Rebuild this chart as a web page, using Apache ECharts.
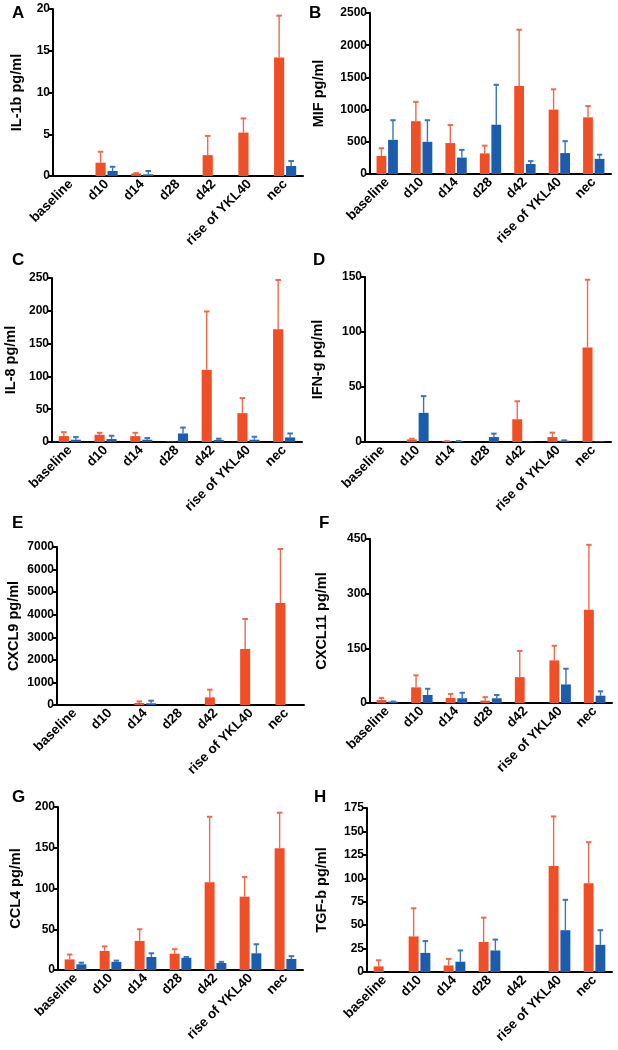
<!DOCTYPE html>
<html>
<head>
<meta charset="utf-8">
<script src="https://cdn.jsdelivr.net/npm/echarts@6/dist/echarts.min.js"></script>
<style>html,body{margin:0;padding:0;background:#fff}#c{width:618px;height:1050px}</style>
</head>
<body>
<div id="c"></div>
<script>
// ---- data ----
const categories = ['baseline', 'd10', 'd14', 'd28', 'd42', 'rise of YKL40', 'nec'];

const il1bOrange = [0, 1.6, 0.3, 0, 2.5, 5.2, 14.2];
const il1bOrangeUp = [0, 2.9, 0.35, 0, 4.8, 6.9, 19.2];
const il1bBlue = [0, 0.6, 0.2, 0, 0, 0, 1.2];
const il1bBlueUp = [0, 1.1, 0.6, 0, 0, 0, 1.8];

const mifOrange = [280, 820, 480, 320, 1365, 1000, 880];
const mifOrangeUp = [400, 1120, 760, 440, 2240, 1315, 1055];
const mifBlue = [530, 500, 255, 765, 155, 325, 235];
const mifBlueUp = [835, 835, 375, 1385, 200, 510, 300];

const il8Orange = [9, 11, 9, 0.5, 110, 44, 172];
const il8OrangeUp = [15, 14, 14, 0.5, 199, 67, 247];
const il8Blue = [3.5, 4.5, 3.5, 13, 3, 3.5, 7];
const il8BlueUp = [7.5, 9.5, 6, 22, 5, 8, 13];

const ifngOrange = [0, 2.4, 0.6, 0, 20.7, 4.5, 86];
const ifngOrangeUp = [0, 3, 0.8, 0, 37, 8.5, 147.5];
const ifngBlue = [0, 26.5, 0.6, 4.5, 0.3, 1.2, 0.6];
const ifngBlueUp = [0, 41.7, 0.8, 7.6, 0.3, 1.5, 0.6];

const cxcl9Orange = [0, 0, 90, 0, 340, 2480, 4520];
const cxcl9OrangeUp = [0, 0, 160, 0, 680, 3810, 6910];
const cxcl9Blue = [0, 0, 75, 0, 0, 0, 0];
const cxcl9BlueUp = [0, 0, 190, 0, 0, 0, 0];

const cxcl11Orange = [8, 43, 14, 6.5, 71, 117, 256];
const cxcl11OrangeUp = [14, 76, 25, 16, 143, 157, 434];
const cxcl11Blue = [3.7, 22, 13, 13, 0, 51, 20];
const cxcl11BlueUp = [4, 39, 28, 22, 0, 94, 32];

const ccl4Orange = [13, 23.4, 35.7, 20, 107.6, 90, 149.5];
const ccl4OrangeUp = [19, 29, 50, 25.5, 188, 114, 193];
const ccl4Blue = [7, 10, 16, 15, 8.6, 20.5, 13.5];
const ccl4BlueUp = [9, 11.5, 20.5, 16, 10, 31.6, 17];

const tgfbOrange = [6, 38, 7, 32, 0, 113, 94.6];
const tgfbOrangeUp = [12.5, 68, 14, 58, 0, 166, 138.6];
const tgfbBlue = [0, 20.4, 11, 23, 0, 44.6, 29];
const tgfbBlueUp = [0, 33, 23, 34.6, 0, 77, 44.6];

const panelLetters = ['A', 'B', 'C', 'D', 'E', 'F', 'G', 'H'];
const yNames = ['IL-1b pg/ml', 'MIF pg/ml', 'IL-8 pg/ml', 'IFN-g pg/ml', 'CXCL9 pg/ml', 'CXCL11 pg/ml', 'CCL4 pg/ml', 'TGF-b pg/ml'];
const yMax = [20, 2500, 250, 150, 7000, 450, 200, 175];
const yStep = [5, 500, 50, 50, 1000, 150, 50, 25];

const panelData = [
  [il1bOrange, il1bOrangeUp, il1bBlue, il1bBlueUp],
  [mifOrange, mifOrangeUp, mifBlue, mifBlueUp],
  [il8Orange, il8OrangeUp, il8Blue, il8BlueUp],
  [ifngOrange, ifngOrangeUp, ifngBlue, ifngBlueUp],
  [cxcl9Orange, cxcl9OrangeUp, cxcl9Blue, cxcl9BlueUp],
  [cxcl11Orange, cxcl11OrangeUp, cxcl11Blue, cxcl11BlueUp],
  [ccl4Orange, ccl4OrangeUp, ccl4Blue, ccl4BlueUp],
  [tgfbOrange, tgfbOrangeUp, tgfbBlue, tgfbBlueUp]
];

// ---- layout / style ----
const grids = [
  {left: 53, top: 9, width: 250, height: 167},
  {left: 370, top: 13, width: 241, height: 161},
  {left: 52, top: 278, width: 250, height: 164},
  {left: 365, top: 277, width: 246, height: 165},
  {left: 57, top: 547, width: 247, height: 158},
  {left: 370, top: 539, width: 242, height: 164},
  {left: 58, top: 807, width: 245, height: 163},
  {left: 367, top: 808, width: 245, height: 164}
];
const nameGaps = [29, 44, 34, 40, 36, 41, 35, 38];
const letterPos = [[12, 5], [309, 5], [12, 252], [313, 252], [12, 515], [319, 515], [12, 789], [314, 789]];

const ORANGE = '#EF4F26';
const BLUE = '#1B5CAC';
const ORANGE_ERR = '#F06A4C';
const BLUE_ERR = '#3A74BA';
const CAT_GAP = 0.38, BAR_GAP = 0.18;
const FONT = '"Liberation Sans", Arial, Helvetica, sans-serif';

function errRender(params, api) {
  const xi = api.value(0), v = api.value(1), top = api.value(2), side = api.value(3);
  if (!(top > v)) return null;
  const band = api.size([1, 0])[0];
  const w = band * (1 - CAT_GAP) / (2 + BAR_GAP);
  const off = side * (w / 2 + w * BAR_GAP / 2);
  const p0 = api.coord([xi, v]);
  const p1 = api.coord([xi, top]);
  const x = p0[0] + off;
  const cap = w * 0.55;
  const color = side < 0 ? ORANGE_ERR : BLUE_ERR;
  return {
    type: 'group',
    children: [
      {type: 'line', shape: {x1: x, y1: p0[1], x2: x, y2: p1[1]}, style: {stroke: color, lineWidth: 1.4}},
      {type: 'line', shape: {x1: x - cap / 2, y1: p1[1], x2: x + cap / 2, y2: p1[1]}, style: {stroke: color, lineWidth: 2}}
    ]
  };
}

const option = {
  animation: false,
  backgroundColor: '#fff',
  grid: grids.map(g => Object.assign({containLabel: false}, g)),
  xAxis: grids.map((g, i) => ({
    type: 'category', gridIndex: i, data: categories,
    axisLine: {lineStyle: {color: '#000', width: 2}},
    axisTick: {alignWithLabel: true, length: 4, lineStyle: {color: '#000', width: 2}},
    axisLabel: {rotate: 45, interval: 0, color: '#000', fontWeight: 'bold', fontSize: 13.5, fontFamily: FONT, margin: 6}
  })),
  yAxis: grids.map((g, i) => ({
    type: 'value', gridIndex: i, min: 0, max: yMax[i], interval: yStep[i],
    name: yNames[i], nameLocation: 'middle', nameRotate: 90, nameGap: nameGaps[i],
    nameTextStyle: {color: '#000', fontWeight: 'bold', fontSize: 14.5, fontFamily: FONT},
    axisLine: {show: true, lineStyle: {color: '#000', width: 2}},
    axisTick: {show: true, length: 4, lineStyle: {color: '#000', width: 2}},
    axisLabel: {color: '#000', fontWeight: 'bold', fontSize: 12, fontFamily: FONT, margin: 3,
      formatter: v => String(v)},
    splitLine: {show: false}
  })),
  series: [],
  graphic: panelLetters.map((t, i) => ({
    type: 'text', left: letterPos[i][0], top: letterPos[i][1],
    style: {text: t, fill: '#000', font: 'bold 17px ' + FONT}
  }))
};

panelData.forEach((d, i) => {
  option.series.push({
    type: 'bar', xAxisIndex: i, yAxisIndex: i, data: d[0],
    itemStyle: {color: ORANGE}, barCategoryGap: (CAT_GAP * 100) + '%', barGap: (BAR_GAP * 100) + '%'
  });
  option.series.push({
    type: 'bar', xAxisIndex: i, yAxisIndex: i, data: d[2],
    itemStyle: {color: BLUE}, barCategoryGap: (CAT_GAP * 100) + '%', barGap: (BAR_GAP * 100) + '%'
  });
  const errData = [];
  categories.forEach((c, k) => {
    errData.push([k, d[0][k], d[1][k], -1]);
    errData.push([k, d[2][k], d[3][k], 1]);
  });
  option.series.push({
    type: 'custom', xAxisIndex: i, yAxisIndex: i, data: errData,
    encode: {x: 0, y: [1, 2]}, renderItem: errRender, z: 3, clip: false
  });
});

const chart = echarts.init(document.getElementById('c'), null, {renderer: 'canvas'});
chart.setOption(option);
</script>
</body>
</html>
